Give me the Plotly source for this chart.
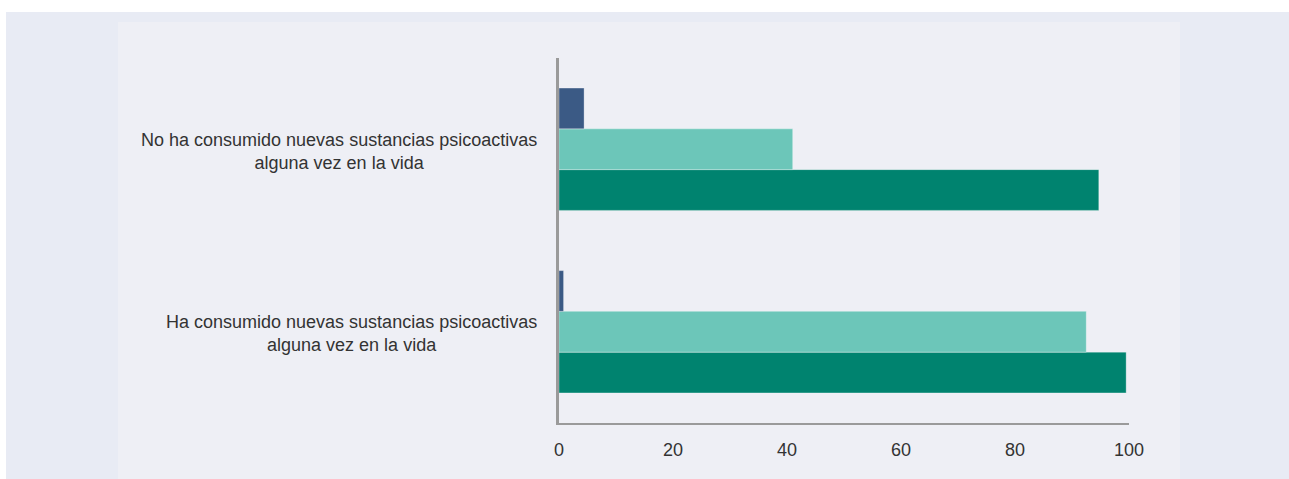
import plotly.graph_objects as go

categories = [
    "Ha consumido nuevas sustancias psicoactivas<br>alguna vez en la vida",
    "No ha consumido nuevas sustancias psicoactivas<br>alguna vez en la vida",
]
series_names = ["Serie C", "Serie B", "Serie A"]
values_c = [99.5, 94.7]   # dark teal (bottom of each group)
values_b = [92.5, 41.0]   # light teal
values_a = [0.8, 4.4]     # dark blue (top of each group)
x_ticks = [0, 20, 40, 60, 80, 100]

colors = ["#00836f", "#6cc6b9", "#3b5a85"]
FONT = "Liberation Sans, Arial, Helvetica, sans-serif"

W, H = 1289, 479
ML, MR, MT, MB = 559, 160, 58, 56
PW, PH = W - ML - MR, H - MT - MB


def px_x(x):
    return (x - ML) / PW


def px_y(y):
    return 1 - (y - MT) / PH


fig = go.Figure()
for name, vals, col in zip(series_names, [values_c, values_b, values_a], colors):
    fig.add_trace(go.Bar(
        y=list(range(len(categories))), x=vals, orientation="h", name=name,
        marker=dict(color=col, line=dict(color="rgba(255,255,255,0.3)", width=1)),
    ))

shapes = [
    dict(type="rect", xref="paper", yref="paper", layer="below",
         x0=px_x(0), x1=px_x(W), y0=px_y(H), y1=px_y(0),
         fillcolor="#ffffff", line=dict(width=0)),
    dict(type="rect", xref="paper", yref="paper", layer="below",
         x0=px_x(6), x1=px_x(W), y0=px_y(H), y1=px_y(12),
         fillcolor="#e8ebf4", line=dict(width=0)),
    dict(type="rect", xref="paper", yref="paper", layer="below",
         x0=px_x(118), x1=px_x(1180), y0=px_y(H), y1=px_y(22),
         fillcolor="#eeeff5", line=dict(width=0)),
]

annotations = [
    dict(xref="paper", yref="y", x=px_x(539), y=i, text=c, showarrow=False,
         xanchor="right", yanchor="middle", align="center", yshift=-2,
         font=dict(family=FONT, size=18, color="#333333"))
    for i, c in enumerate(categories)
]

fig.update_layout(
    width=W, height=H,
    margin=dict(l=ML, r=MR, t=MT, b=MB, pad=0),
    paper_bgcolor="#e8ebf4",
    plot_bgcolor="rgba(0,0,0,0)",
    barmode="group", bargap=0.33, bargroupgap=0,
    showlegend=False,
    shapes=shapes, annotations=annotations,
    font=dict(family=FONT, size=18, color="#333333"),
    xaxis=dict(range=[0, 100], tickvals=x_ticks, showgrid=False, zeroline=False,
               showline=True, linecolor="#9a9a9a", linewidth=2, ticks="",
               ticklabelstandoff=9, fixedrange=True),
    yaxis=dict(range=[-0.5, 1.5], showticklabels=False, showgrid=False, zeroline=False,
               showline=True, linecolor="#9a9a9a", linewidth=2.5, ticks="", fixedrange=True),
)

fig.write_html("out.html", config={"displayModeBar": False},
               post_script="document.body.style.margin='0';")
